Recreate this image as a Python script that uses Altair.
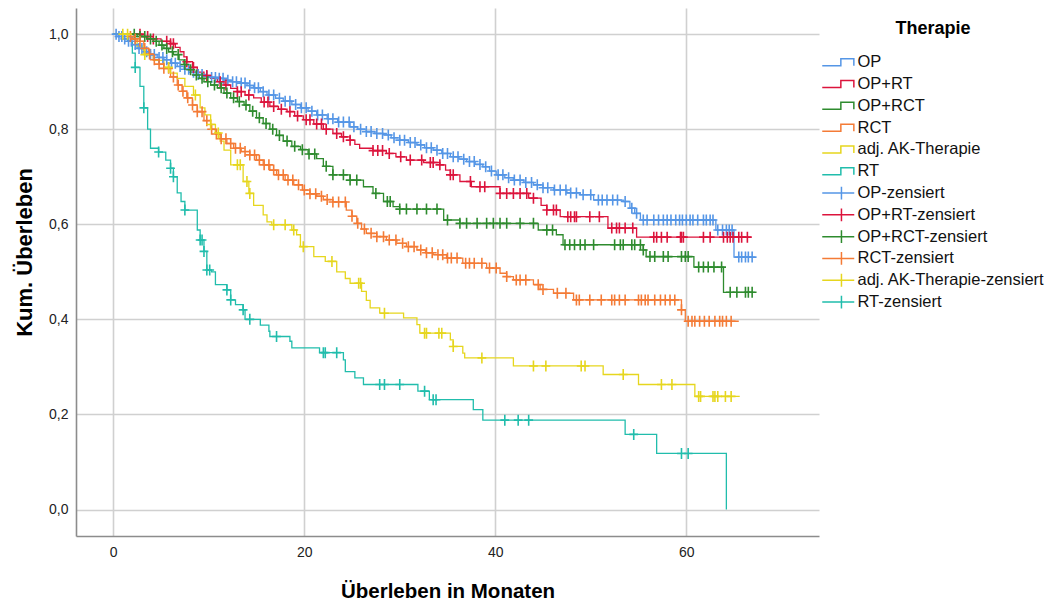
import bisect

import altair as alt
import pandas as pd

# Therapy groups, colours and legend entries
GROUPS = ["OP", "OP+RT", "OP+RCT", "RCT", "adj. AK-Therapie", "RT"]
COLORS = ["#5596E6", "#DC143C", "#2E8B2E", "#F47B36", "#E6D61E", "#21BDAC"]
CENSOR_LABELS = [g + "-zensiert" for g in GROUPS]

# Kaplan-Meier steps: event times (months) and survival after each step
op_t = [0, 0.5, 1.0, 1.5, 2.0, 2.5, 3.2, 3.9, 4.6, 5.3, 6.0, 6.7, 7.4, 8.1, 8.8, 9.5, 10.2, 10.9, 11.6, 12.3,
        13.3, 14.0, 14.7, 15.4, 16.1, 17.0, 17.8, 18.7, 19.6, 20.4, 21.3, 22.4, 23.5, 24.8, 25.6, 26.5, 27.4, 28.3, 29.1, 30.0,
        30.9, 31.8, 32.6, 33.5, 34.4, 35.3, 36.2, 37.0, 37.9, 38.7, 39.4, 40.1, 41.0, 41.9, 43.0, 44.0, 45.0, 46.1, 47.5, 48.9,
        50.3, 53.4, 54.1, 54.6, 55.2, 63.1, 65.0, 67.2]
op_s = [1.0, 0.995, 0.99, 0.985, 0.978, 0.97, 0.963, 0.957, 0.951, 0.946, 0.939, 0.932, 0.926, 0.92, 0.915, 0.911, 0.909, 0.907, 0.903, 0.90,
        0.897, 0.892, 0.887, 0.879, 0.872, 0.865, 0.859, 0.852, 0.845, 0.838, 0.83, 0.822, 0.815, 0.805, 0.80, 0.795, 0.791, 0.788, 0.782, 0.777,
        0.772, 0.767, 0.761, 0.756, 0.749, 0.742, 0.737, 0.732, 0.726, 0.721, 0.712, 0.704, 0.698, 0.693, 0.688, 0.683, 0.677, 0.672, 0.666, 0.662,
        0.651, 0.648, 0.634, 0.623, 0.609, 0.588, 0.531, 0.531]

oprt_t = [0, 3.0, 4.2, 5.0, 6.0, 6.5, 7.0, 7.4, 7.7, 8.3, 8.8, 9.5, 10.2, 10.9, 11.6, 12.3, 13.0, 13.8, 14.7, 15.5,
          16.4, 17.3, 18.2, 19.0, 19.9, 21.0, 22.0, 23.0, 23.9, 24.8, 25.3, 25.8, 27.2, 28.6, 29.6, 30.7, 32.5, 34.2, 34.8, 35.3,
          36.3, 37.5, 40.5, 43.5, 44.8, 45.4, 46.8, 51.8, 54.8, 66.8]
oprt_s = [1.0, 0.995, 0.99, 0.985, 0.98, 0.972, 0.963, 0.952, 0.942, 0.93, 0.92, 0.913, 0.907, 0.90, 0.893, 0.886, 0.879, 0.872, 0.866, 0.857,
          0.848, 0.842, 0.837, 0.828, 0.82, 0.811, 0.80, 0.791, 0.784, 0.777, 0.768, 0.76, 0.755, 0.749, 0.742, 0.735, 0.73, 0.725, 0.714, 0.704,
          0.69, 0.679, 0.665, 0.655, 0.64, 0.63, 0.616, 0.592, 0.573, 0.573]

oprct_t = [0, 2.5, 3.5, 4.2, 4.8, 5.3, 5.8, 6.3, 6.9, 7.4, 7.9, 8.4, 9.0, 9.5, 10.2, 10.9, 11.6, 12.3, 13.0, 13.7,
           14.3, 15.0, 15.7, 16.4, 17.1, 17.8, 18.7, 19.6, 20.4, 21.3, 22.0, 23.0, 24.8, 26.2, 27.2, 28.3, 29.3, 30.0, 34.6, 36.3,
           44.5, 46.4, 47.1, 55.5, 55.8, 60.8, 63.9, 67.2]
oprct_s = [1.0, 0.995, 0.99, 0.985, 0.977, 0.97, 0.963, 0.957, 0.946, 0.936, 0.925, 0.914, 0.907, 0.90, 0.893, 0.887, 0.876, 0.866, 0.858, 0.851,
           0.838, 0.824, 0.812, 0.80, 0.787, 0.775, 0.764, 0.757, 0.748, 0.738, 0.722, 0.704, 0.693, 0.679, 0.665, 0.648, 0.637, 0.632, 0.609, 0.602,
           0.588, 0.578, 0.557, 0.546, 0.532, 0.51, 0.457, 0.457]

rct_t = [0, 1.5, 2.0, 2.5, 3.2, 3.7, 4.2, 4.8, 5.3, 6.0, 6.7, 7.2, 7.7, 8.3, 8.8, 9.5, 10.2, 10.7, 11.2, 11.9,
         12.6, 13.4, 14.3, 15.0, 15.7, 16.4, 17.1, 18.0, 18.9, 19.8, 20.6, 21.3, 22.0, 23.0, 24.4, 25.0, 25.5, 26.0, 26.5, 27.6,
         28.6, 29.7, 30.7, 31.8, 32.7, 33.5, 34.9, 36.6, 39.1, 40.5, 41.2, 41.9, 44.0, 44.7, 46.1, 48.2, 59.5, 59.9, 65.5]
rct_s = [1.0, 0.995, 0.99, 0.985, 0.97, 0.958, 0.946, 0.937, 0.928, 0.91, 0.893, 0.88, 0.866, 0.851, 0.837, 0.818, 0.80, 0.79, 0.78, 0.77,
         0.76, 0.753, 0.746, 0.735, 0.725, 0.714, 0.704, 0.693, 0.683, 0.672, 0.664, 0.659, 0.652, 0.647, 0.63, 0.617, 0.602, 0.59, 0.581, 0.574,
         0.567, 0.56, 0.553, 0.546, 0.54, 0.536, 0.529, 0.518, 0.508, 0.497, 0.49, 0.483, 0.473, 0.463, 0.455, 0.441, 0.42, 0.396, 0.396]

ak_t = [0, 1.8, 2.5, 3.2, 4.2, 5.3, 6.0, 6.7, 7.5, 8.4, 9.1, 9.6, 10.2, 10.7, 11.2, 11.6, 12.3, 13.6, 14.2, 14.7,
        15.7, 16.1, 16.6, 18.7, 19.2, 19.6, 21.0, 22.2, 23.4, 24.3, 24.8, 26.0, 26.5, 26.9, 27.9, 30.4, 31.8, 32.1, 35.3, 35.6,
        36.6, 36.8, 41.9, 51.3, 55.0, 60.9, 65.6]
ak_s = [1.0, 0.99, 0.975, 0.957, 0.945, 0.93, 0.918, 0.907, 0.89, 0.872, 0.845, 0.83, 0.81, 0.792, 0.775, 0.756, 0.725, 0.69, 0.665, 0.64,
        0.62, 0.605, 0.599, 0.588, 0.578, 0.553, 0.532, 0.522, 0.50, 0.486, 0.476, 0.459, 0.44, 0.424, 0.413, 0.403, 0.389, 0.371, 0.357, 0.343,
        0.329, 0.319, 0.302, 0.284, 0.263, 0.238, 0.238]

rt_t = [0, 1.5, 2.0, 2.3, 2.8, 3.2, 3.6, 3.9, 4.75, 5.5, 6.0, 6.3, 6.7, 7.1, 7.5, 8.8, 9.1, 9.5, 9.8, 10.3,
        10.7, 11.9, 12.3, 12.8, 13.6, 13.8, 15.4, 16.3, 16.4, 18.5, 18.7, 21.6, 24.1, 24.3, 25.3, 26.2, 31.9, 33.1, 37.7, 38.7,
        53.6, 56.9, 64.2]
rt_s = [1.0, 0.985, 0.96, 0.93, 0.89, 0.845, 0.80, 0.76, 0.752, 0.735, 0.718, 0.70, 0.666, 0.648, 0.63, 0.588, 0.567, 0.543, 0.504, 0.50,
        0.473, 0.462, 0.441, 0.431, 0.42, 0.40, 0.388, 0.375, 0.364, 0.354, 0.34, 0.33, 0.315, 0.29, 0.277, 0.263, 0.249, 0.231, 0.21, 0.188,
        0.158, 0.118, 0.0]

# Censoring times (months)
op_c = [0.3, 0.6, 0.9, 1.2, 1.6, 1.9, 2.3, 2.7, 3.0, 3.5, 3.9, 4.3, 4.8, 5.2, 5.6, 6.1, 6.5, 7.0, 7.5, 7.9,
        8.4, 8.9, 9.3, 9.8, 10.3, 10.7, 11.1, 11.5, 12.0, 12.5, 12.9, 13.4, 13.8, 14.3, 14.8, 15.2, 15.7, 16.3, 16.8, 17.4,
        18.0, 18.5, 19.1, 19.7, 20.2, 20.8, 21.4, 21.9, 22.5, 23.0, 23.6, 24.1, 24.7, 25.2, 25.9, 26.5, 27.0, 27.6, 28.2, 28.8,
        29.4, 30.0, 30.5, 31.1, 31.6, 32.2, 32.8, 33.3, 33.9, 34.5, 35.0, 35.6, 36.1, 36.7, 37.3, 37.8, 38.4, 39.0, 39.6, 40.3,
        40.8, 41.4, 42.0, 42.6, 43.2, 43.8, 44.4, 45.0, 45.5, 46.2, 46.8, 47.4, 47.9, 48.5, 49.2, 50.0, 50.8, 51.2, 51.7, 52.3,
        52.8, 53.6, 54.3, 54.8, 55.5, 55.9, 56.6, 57.1, 57.6, 58.0, 58.4, 58.9, 59.3, 59.6, 60.0, 60.4, 60.7, 61.2, 61.8, 62.1,
        62.5, 62.8, 63.3, 63.8, 64.2, 64.5, 64.8, 65.5, 65.8, 66.2, 66.5, 66.9]
oprt_c = [2.8, 3.6, 4.2, 5.6, 6.0, 6.3, 7.7, 8.4, 9.8, 11.2, 11.8, 13.0, 13.4, 14.2, 15.8, 16.2, 16.8, 17.6, 18.5, 19.3,
          20.2, 20.6, 21.3, 21.8, 22.3, 23.4, 24.1, 24.8, 27.2, 27.7, 28.2, 28.9, 30.1, 31.1, 32.3, 33.2, 33.5, 34.2, 35.3, 35.6,
          37.4, 38.4, 38.9, 40.5, 41.2, 41.9, 42.6, 43.3, 44.0, 45.4, 46.1, 46.4, 47.6, 47.9, 48.3, 48.5, 49.9, 50.9, 52.2, 52.7,
          53.0, 53.6, 54.4, 56.6, 56.9, 57.4, 58.0, 59.4, 59.5, 59.7, 61.8, 62.5, 63.9, 64.3, 64.6, 64.9, 65.5, 65.8, 66.4]
oprct_c = [2.2, 2.8, 3.3, 3.9, 4.5, 5.1, 5.6, 6.2, 6.8, 7.5, 8.1, 8.7, 9.3, 9.9, 10.6, 11.3, 11.9, 12.6, 13.2, 13.9,
           14.6, 15.3, 16.0, 16.7, 17.4, 18.2, 19.0, 19.8, 20.5, 21.1, 22.3, 23.0, 24.1, 24.8, 25.5, 27.5, 28.7, 29.0, 30.0, 30.7,
           31.8, 32.8, 33.9, 35.0, 36.3, 37.0, 38.1, 39.1, 39.8, 40.5, 41.2, 42.6, 44.0, 45.4, 46.0, 47.3, 47.8, 48.3, 48.9, 49.4,
           50.3, 52.5, 53.1, 53.4, 54.3, 54.6, 55.2, 55.5, 56.2, 56.7, 57.6, 58.1, 59.5, 59.9, 60.2, 61.3, 61.8, 62.3, 62.9, 63.7,
           64.6, 65.3, 66.2, 66.5, 66.9]
rct_c = [1.8, 2.3, 2.8, 3.3, 3.8, 4.3, 4.8, 5.3, 5.8, 6.3, 6.8, 7.3, 7.8, 8.3, 8.8, 9.3, 9.8, 10.3, 10.8, 11.3,
         11.8, 12.3, 12.8, 13.3, 13.8, 14.3, 14.8, 15.3, 15.8, 16.3, 16.8, 17.3, 17.8, 18.3, 18.8, 19.4, 20.0, 20.6, 21.2, 21.8,
         22.4, 23.0, 23.6, 24.3, 25.0, 25.6, 26.3, 27.0, 27.6, 28.3, 28.9, 29.6, 30.3, 30.9, 31.5, 32.2, 32.8, 33.4, 34.0, 34.5,
         35.0, 35.4, 36.0, 36.9, 37.3, 37.8, 38.6, 39.4, 40.1, 41.2, 42.2, 42.6, 43.2, 44.5, 45.0, 46.5, 47.4, 48.5, 48.8, 49.9,
         51.1, 52.2, 52.5, 53.0, 53.6, 55.0, 55.3, 55.7, 56.0, 56.7, 57.3, 57.8, 58.3, 58.8, 59.5, 60.2, 60.6, 60.9, 61.4, 61.9,
         62.4, 63.0, 63.5, 63.8, 64.2, 64.7]
ak_c = [1.0, 1.5, 3.3, 5.8, 8.6, 10.2, 11.0, 13.0, 13.3, 14.0, 14.3, 16.8, 18.0, 18.9, 19.9, 22.9, 25.7, 25.9, 28.4, 32.6,
        32.8, 34.1, 34.4, 35.6, 38.6, 44.0, 45.3, 49.0, 49.4, 53.4, 57.4, 58.5, 61.3, 61.5, 62.8, 63.0, 63.3, 64.1, 64.7]
rt_c = [2.3, 3.2, 4.75, 6.0, 6.3, 7.5, 9.1, 9.3, 9.5, 9.8, 10.1, 11.9, 12.3, 13.6, 14.3, 17.1, 22.0, 22.2, 23.4, 27.9,
        28.4, 30.0, 32.6, 33.5, 33.8, 41.0, 42.4, 43.5, 54.5, 59.5, 60.2]

CURVES = {
    "OP": (op_t, op_s, op_c),
    "OP+RT": (oprt_t, oprt_s, oprt_c),
    "OP+RCT": (oprct_t, oprct_s, oprct_c),
    "RCT": (rct_t, rct_s, rct_c),
    "adj. AK-Therapie": (ak_t, ak_s, ak_c),
    "RT": (rt_t, rt_s, rt_c),
}

X_TICKS = [0, 20, 40, 60]
Y_TICKS = [0.0, 0.2, 0.4, 0.6, 0.8, 1.0]

# Legend glyphs: a small staircase for the curves, a long line with a tick for censored cases.
# The staircase carries two zero-length segments so both glyphs share the same height.
STEP_GLYPH = "M-8,1.75L1.3,1.75L1.3,-1.75L7.8,-1.75L7.8,1.75M1.3,-3.2L1.3,-3.2M1.3,3.2L1.3,3.2"
CENSOR_GLYPH = "M-8,0L8,0M1.6,-3.2L1.6,3.2"
PLUS = "M-0.8,0L0.8,0M0,-1L0,1"

line_rows, cens_rows = [], []
for g in GROUPS:
    t, s, c = CURVES[g]
    for ti, si in zip(t, s):
        line_rows.append({"entry": g, "months": ti, "surv": si})
    for ci in c:
        k = bisect.bisect_right(t, ci) - 1
        cens_rows.append({"entry": g, "months": ci, "surv": s[k]})

lines_df = pd.DataFrame(line_rows)
cens_df = pd.DataFrame(cens_rows)
legend_df = pd.DataFrame({"entry": GROUPS + CENSOR_LABELS})

ENTRIES = GROUPS + CENSOR_LABELS
color_scale = alt.Scale(domain=ENTRIES, range=COLORS + COLORS)
shape_scale = alt.Scale(domain=ENTRIES, range=[STEP_GLYPH] * 6 + [CENSOR_GLYPH] * 6)

x_axis = alt.Axis(
    values=X_TICKS, title="Überleben in Monaten", tickSize=0, labelPadding=9,
    labelFontSize=14, labelColor="#222222", titleFontSize=20.5, titleFontWeight="bold",
    titleColor="#000000", titleBaseline="alphabetic", titleY=61,
    domainColor="#8c8c8c", domainWidth=1.6, gridColor="#d0d0d0", gridWidth=1.6,
)
y_axis = alt.Axis(
    values=Y_TICKS, title="Kum. Überleben", tickSize=0, labelPadding=8,
    labelExpr="replace(format(datum.value, '.1f'), '.', ',')",
    labelFontSize=14, labelColor="#222222", titleFontSize=22, titleFontWeight="bold",
    titleColor="#000000", titleAngle=270, titleBaseline="alphabetic", titleAlign="center",
    titleX=-45, titleY=244,
    domainColor="#8c8c8c", domainWidth=1.6, gridColor="#d0d0d0", gridWidth=1.6,
)
x_enc = alt.X("months:Q", scale=alt.Scale(domain=[-3.9, 73.9], nice=False, zero=False), axis=x_axis)
y_enc = alt.Y("surv:Q", scale=alt.Scale(domain=[-0.0557, 1.055], nice=False, zero=False), axis=y_axis)

legend_spec = alt.Legend(
    title="Therapie", orient="none", legendX=746, legendY=12,
    titleFontSize=18, titleFontWeight="bold", titleColor="#000000", titleAnchor="middle",
    titlePadding=16, labelFontSize=16.5, labelColor="#111111", labelLimit=320,
    symbolSize=16, symbolStrokeWidth=1.5, symbolOpacity=1, symbolOffset=8,
    symbolFillColor="transparent", labelOffset=11, rowPadding=1.8,
)
color_enc = alt.Color("entry:N", scale=color_scale, legend=legend_spec, title="Therapie")

lines = alt.Chart(lines_df).mark_line(interpolate="step-after", strokeWidth=1.3).encode(
    x=x_enc, y=y_enc, color=color_enc, detail="entry:N",
)

censored = alt.Chart(cens_df).mark_point(
    shape=PLUS, size=121, filled=False, strokeWidth=1.6, opacity=1
).encode(
    x=x_enc, y=y_enc, color=color_enc,
)

# Carries the combined colour/shape legend; its own points stay invisible
legend_layer = alt.Chart(legend_df).mark_point(opacity=0, filled=False).encode(
    color=color_enc,
    shape=alt.Shape("entry:N", scale=shape_scale, legend=legend_spec, title="Therapie"),
)

chart = (
    alt.layer(lines, censored, legend_layer)
    .properties(
        width=743, height=528, autosize="none",
        padding={"left": 76, "top": 8, "right": 233, "bottom": 65},
    )
    .configure(font="Liberation Sans")
    .configure_view(stroke=None)
    .configure_axis(labelFont="Liberation Sans", titleFont="Liberation Sans")
    .configure_legend(labelFont="Liberation Sans", titleFont="Liberation Sans")
)

chart.save("out.html", embed_options={"renderer": "svg", "actions": False})
